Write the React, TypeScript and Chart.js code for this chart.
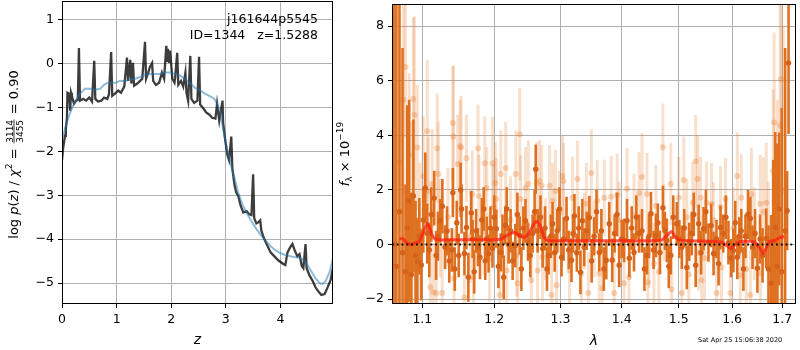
import React, { useEffect, useRef } from "react";
import { Chart, registerables } from "chart.js";

Chart.register(...registerables);

const FONT_FAMILY = "'DejaVu Sans', sans-serif";

// ---------------- Left panel data ----------------
const zTicks = [0, 1, 2, 3, 4];
const logpTicks = [-5, -4, -3, -2, -1, 0, 1];

// [z, log p(z)] dark (chi2-based) curve
const darkCurve: [number, number][] = [
  [0, -2.2], [0.02, -1.93], [0.055, -1.64], [0.07, -1.48], [0.09, -1.25], [0.1, -0.66], [0.13, -0.68],
  [0.15, -1.07], [0.165, -0.66], [0.18, -0.73], [0.22, -0.91], [0.26, -0.84], [0.29, -0.82], [0.31, 0.36],
  [0.33, -0.84], [0.39, -0.8], [0.44, -0.84], [0.5, -0.77], [0.55, -0.86], [0.59, 0.07], [0.61, -0.8],
  [0.66, -0.86], [0.72, -0.84], [0.77, -0.77], [0.83, -0.8], [0.86, -0.7], [0.9, 0.27], [0.92, -0.73],
  [0.97, -0.68], [1.03, -0.61], [1.08, -0.66], [1.14, -0.52], [1.19, 0.14], [1.21, -0.39], [1.25, 0.09],
  [1.27, -0.45], [1.3, 0.02], [1.32, -0.5], [1.38, -0.45], [1.43, -0.39], [1.47, -0.34], [1.52, 0.5],
  [1.54, -0.34], [1.58, -0.2], [1.61, -0.07], [1.65, 0.02], [1.67, -0.39], [1.72, -0.48], [1.78, -0.43],
  [1.83, -0.2], [1.87, -0.34], [1.91, 0.41], [1.93, 0.07], [1.94, 0.34], [1.96, 0.02], [1.98, 0.3],
  [2.02, -0.34], [2.06, -0.43], [2.07, -0.34], [2.11, 0.25], [2.13, -0.48], [2.18, -0.39], [2.22, -0.52],
  [2.26, -0.2], [2.28, -0.66], [2.31, -0.84], [2.35, 0.18], [2.37, -0.8], [2.42, -0.89], [2.48, -0.84],
  [2.51, 0.16], [2.53, -0.93], [2.59, -1.02], [2.64, -1.11], [2.7, -1.16], [2.75, -1.23], [2.81, -1.25],
  [2.84, -0.91], [2.88, -1.3], [2.94, -0.84], [2.95, -1.34], [2.99, -1.75], [3.03, -2.09], [3.06, -2.2],
  [3.1, -1.66], [3.12, -2.39], [3.16, -2.77], [3.19, -2.93], [3.23, -3.02], [3.27, -3.23], [3.32, -3.39],
  [3.38, -3.36], [3.43, -3.43], [3.47, -3.45], [3.5, -2.52], [3.52, -3.52], [3.56, -3.64], [3.6, -3.61],
  [3.63, -3.57], [3.65, -3.8], [3.69, -3.95], [3.74, -4.09], [3.82, -4.3], [3.89, -4.39], [3.96, -4.48],
  [4.06, -4.57], [4.09, -4.59], [4.13, -4.3], [4.18, -4.18], [4.22, -4.11], [4.26, -4.25], [4.31, -4.39],
  [4.35, -4.34], [4.39, -4.61], [4.42, -4.66], [4.46, -4.11], [4.48, -4.66], [4.53, -4.82], [4.59, -4.95],
  [4.64, -5.09], [4.7, -5.2], [4.75, -5.27], [4.81, -5.25], [4.86, -5.11], [4.92, -4.93], [4.97, -4.59],
];

// [z, log p(z)] smooth blue curve
const blueCurve: [number, number][] = [
  [0, -1.75], [0.055, -1.48], [0.11, -1.25], [0.18, -1.02], [0.26, -0.82], [0.33, -0.68], [0.42, -0.57],
  [0.51, -0.57], [0.61, -0.59], [0.7, -0.57], [0.77, -0.48], [0.84, -0.43], [0.92, -0.43], [0.99, -0.43],
  [1.06, -0.39], [1.16, -0.39], [1.25, -0.36], [1.34, -0.34], [1.43, -0.3], [1.52, -0.25], [1.61, -0.23],
  [1.71, -0.23], [1.8, -0.23], [1.89, -0.2], [1.98, -0.2], [2.07, -0.23], [2.17, -0.27], [2.26, -0.36],
  [2.35, -0.45], [2.44, -0.55], [2.53, -0.61], [2.62, -0.68], [2.72, -0.75], [2.79, -0.8], [2.84, -0.91],
  [2.9, -1.11], [2.95, -1.48], [3.01, -1.86], [3.08, -2.25], [3.16, -2.61], [3.23, -2.95], [3.3, -3.2],
  [3.38, -3.39], [3.45, -3.55], [3.54, -3.73], [3.63, -3.89], [3.72, -4.02], [3.82, -4.16], [3.91, -4.25],
  [4.0, -4.32], [4.09, -4.36], [4.18, -4.39], [4.28, -4.41], [4.37, -4.43], [4.46, -4.52], [4.55, -4.7],
  [4.64, -4.89], [4.72, -5.0], [4.77, -5.02], [4.83, -4.95], [4.9, -4.75], [4.97, -4.39],
];

// ---------------- Right panel data ----------------
const lamTicks = [1.1, 1.2, 1.3, 1.4, 1.5, 1.6, 1.7];
const fluxTicks = [-2, 0, 2, 4, 6, 8];

// [lambda, flux, err] strong (dark) points
const darkPts: [number, number, number][] = [
  [1.0625, 0.0, 12], [1.066, -0.8, 10], [1.07, 1.2, 9], [1.074, -0.3, 7.5], [1.0778, -1.0, 3.2],
  [1.08, 0.6, 4.5], [1.0826, 1.6, 3.7], [1.0855, -1.1, 3.0], [1.0882, 1.78, 2.8], [1.091, -0.4, 2.0],
  [1.0934, -0.62, 1.6], [1.096, 0.3, 1.4], [1.0987, -0.75, 1.3], [1.1013, 0.9, 1.2], [1.104, 2.07, 1.3],
  [1.1066, 0.4, 1.1], [1.1093, -0.2, 1.0], [1.112, 1.1, 1.0], [1.1159, 1.7, 1.0], [1.1185, -0.4, 0.9],
  [1.121, 0.3, 0.9], [1.1241, 0.87, 0.8], [1.127, 1.4, 1.0], [1.1307, -0.1, 0.8], [1.1334, 0.5, 0.9],
  [1.1365, -0.6, 0.8], [1.14, -0.2, 0.8], [1.1414, 1.9, 0.9], [1.144, -0.9, 0.8], [1.1468, 0.8, 0.8],
  [1.1495, -0.4, 0.8], [1.1522, 2.0, 1.0], [1.1535, 1.3, 0.9], [1.1575, -0.33, 0.8], [1.1603, 0.62, 0.8],
  [1.163, -1.2, 0.9], [1.1671, 1.16, 0.8], [1.169, 0.2, 0.7], [1.1712, -1.0, 0.8], [1.174, 0.5, 0.8],
  [1.1765, -0.1, 0.7], [1.1794, -0.47, 0.8], [1.182, 0.9, 0.8], [1.1849, 1.3, 0.8], [1.187, -0.6, 0.7],
  [1.1891, 0.22, 0.8], [1.1918, -0.33, 0.7], [1.1945, 0.6, 0.8], [1.1974, -0.15, 0.7], [1.2, 1.0, 0.8],
  [1.203, 0.58, 0.7], [1.206, -0.8, 0.8], [1.2095, -0.29, 0.7], [1.212, 0.3, 0.8], [1.2138, -1.2, 0.8],
  [1.216, 0.7, 0.7], [1.2182, 1.3, 0.8], [1.221, 0.0, 0.7], [1.224, 0.5, 0.8], [1.227, -0.6, 0.7],
  [1.2309, -0.04, 0.8], [1.234, 1.1, 0.8], [1.2375, 0.33, 0.7], [1.24, -0.9, 0.8], [1.243, 0.6, 0.8],
  [1.2462, 0.87, 0.8], [1.25, 0.1, 0.7], [1.2535, -0.4, 0.8], [1.257, 0.4, 0.7], [1.26, 1.2, 0.8],
  [1.2617, 2.76, 0.9], [1.2647, 0.5, 0.8], [1.269, 1.0, 0.8], [1.2723, -0.15, 0.7], [1.276, 0.6, 0.8],
  [1.279, -0.9, 0.8], [1.2815, -0.4, 0.7], [1.285, 0.3, 0.8], [1.2877, 0.76, 0.8], [1.291, -0.3, 0.7],
  [1.295, 0.5, 0.8], [1.2985, 1.3, 0.8], [1.3017, -0.47, 0.7], [1.305, 0.2, 0.8], [1.3096, 0.95, 0.8],
  [1.313, -0.2, 0.7], [1.3175, -0.58, 0.8], [1.32, 0.4, 0.7], [1.3222, 1.05, 0.8], [1.326, -0.3, 0.7],
  [1.329, 0.6, 0.8], [1.3318, -1.02, 0.8], [1.3349, 0.87, 0.8], [1.338, -0.1, 0.7], [1.342, 0.5, 0.7],
  [1.3463, 0.98, 0.8], [1.35, -0.6, 0.8], [1.354, 0.3, 0.7], [1.358, 1.2, 0.8], [1.3625, -0.29, 0.7],
  [1.366, 0.5, 0.8], [1.37, -0.9, 0.8], [1.3741, -0.58, 0.7], [1.379, 0.76, 0.8], [1.384, -0.58, 0.8],
  [1.388, 0.4, 0.7], [1.392, 1.1, 0.8], [1.3957, -0.76, 0.8], [1.4, 0.2, 0.7], [1.404, 0.15, 0.8],
  [1.409, 0.87, 0.8], [1.413, -0.5, 0.7], [1.417, 0.6, 0.8], [1.421, -0.29, 0.7], [1.425, 1.0, 0.8],
  [1.4296, 0.4, 0.7], [1.4348, 0.5, 0.8], [1.439, -0.9, 0.8], [1.4434, -0.4, 0.7], [1.447, 0.3, 0.8],
  [1.4504, 1.13, 0.8], [1.455, -0.2, 0.7], [1.4591, 0.33, 0.8], [1.4625, 0.8, 0.7], [1.4662, -0.29, 0.8],
  [1.4715, 1.35, 0.8], [1.475, 0.5, 0.7], [1.4786, 0.15, 0.8], [1.482, -0.8, 0.8], [1.4857, -0.4, 0.7],
  [1.49, 1.0, 0.8], [1.4964, 0.76, 0.8], [1.501, 0.2, 0.7], [1.5056, -0.1, 0.8], [1.51, 0.6, 0.7],
  [1.5147, -0.84, 0.8], [1.519, 0.1, 0.7], [1.5237, 0.4, 0.8], [1.5275, 1.1, 0.8], [1.531, -0.76, 0.8],
  [1.5365, 0.76, 0.7], [1.541, -0.3, 0.8], [1.5456, 0.58, 0.8], [1.55, 1.2, 0.8], [1.5548, 0.07, 0.7],
  [1.56, 0.7, 0.8], [1.5645, -0.33, 0.8], [1.57, 0.2, 0.7], [1.574, -0.7, 0.8], [1.5777, 0.62, 0.8],
  [1.583, 0.4, 0.7], [1.588, 1.0, 0.8], [1.5929, 0.07, 0.8], [1.598, -0.5, 0.7], [1.6024, -0.22, 0.8],
  [1.606, 0.8, 0.8], [1.61, -0.47, 0.8], [1.614, 0.3, 0.7], [1.6178, 0.5, 0.8], [1.622, -0.9, 0.8],
  [1.626, 0.3, 0.8], [1.631, 1.1, 0.9], [1.6357, 0.95, 0.8], [1.64, -0.1, 0.8], [1.645, 0.4, 0.9],
  [1.6497, -0.87, 0.9], [1.655, 0.2, 0.9], [1.66, -0.4, 1.0], [1.6674, 0.22, 1.1], [1.672, -0.9, 1.6],
  [1.6773, -1.42, 2.5], [1.6815, 0.1, 3.0], [1.6856, 0.62, 3.5], [1.69, -0.8, 4.5], [1.6937, 1.3, 2.8],
  [1.699, -1.0, 6.0], [1.7059, 0.5, 6.7], [1.71, 1.24, 1.45], [1.713, 6.65, 2.6],
];

// [lambda, flux, err] faint (light) points
const lightPts: [number, number, number][] = [
  [1.065, 0.07, 4.0], [1.07, 3.0, 5.5], [1.0751, 5.3, 3.5], [1.0778, 6.5, 2.6], [1.0826, 3.27, 3.0],
  [1.086, 1.0, 3.5], [1.0882, 5.33, 3.0], [1.0895, 4.75, 3.6], [1.0934, 3.55, 2.3], [1.097, 0.5, 2.5],
  [1.1013, 2.5, 2.2], [1.1066, 4.15, 2.6], [1.108, 1.96, 2.0], [1.1106, -1.56, 2.0], [1.1133, 2.22, 2.0],
  [1.1146, -1.75, 1.8], [1.1186, -1.78, 1.8], [1.1199, 3.53, 2.0], [1.1215, 2.58, 1.9], [1.1241, 0.6, 1.8],
  [1.1268, -1.78, 1.8], [1.1347, 1.0, 1.8], [1.1414, 4.45, 2.1], [1.142, 3.95, 2.6], [1.143, -1.24, 1.8],
  [1.1481, 2.95, 1.8], [1.1515, 3.6, 1.7], [1.1528, 3.55, 1.9], [1.1575, -1.93, 1.8], [1.1603, 3.16, 1.6],
  [1.1657, 0.3, 1.7], [1.1685, 1.85, 1.6], [1.17, -1.2, 1.7], [1.1767, 3.53, 1.6], [1.178, 1.78, 1.5],
  [1.1849, 0.47, 1.6], [1.1863, 2.98, 1.7], [1.1891, 2.07, 1.5], [1.1932, -0.5, 1.6], [1.1974, 2.98, 1.7],
  [1.199, 1.35, 1.6], [1.2016, 2.25, 1.5], [1.203, 1.67, 1.5], [1.2081, -1.85, 1.6], [1.2095, 2.58, 1.6],
  [1.2167, 2.8, 1.7], [1.2182, -0.95, 1.6], [1.2238, 0.9, 1.6], [1.2317, 2.58, 1.6], [1.233, -0.4, 1.5],
  [1.2346, -1.42, 1.6], [1.2375, 4.04, 1.7], [1.2389, 1.67, 1.6], [1.2462, 2.07, 1.5], [1.2506, 2.22, 1.6],
  [1.255, -1.31, 1.6], [1.2632, 2.25, 1.5], [1.2645, -0.95, 1.6], [1.2676, 2.33, 1.5], [1.2708, 2.15, 1.5],
  [1.272, -0.47, 1.6], [1.2769, 0.2, 1.5], [1.283, 2.15, 1.5], [1.2862, -1.85, 1.6], [1.2877, 1.6, 1.4],
  [1.2923, 1.96, 1.5], [1.2939, -1.49, 1.5], [1.2985, 1.2, 1.5], [1.3033, 2.51, 1.5], [1.3049, 2.33, 1.4],
  [1.3143, -0.95, 1.5], [1.3191, 1.71, 1.5], [1.327, 2.4, 1.4], [1.3334, -1.06, 1.5], [1.3381, 0.5, 1.4],
  [1.3414, 1.49, 1.5], [1.3446, -1.78, 1.5], [1.3495, 2.62, 1.6], [1.3543, 0.2, 1.4], [1.3592, 1.6, 1.5],
  [1.3625, -1.06, 1.5], [1.3675, -1.6, 1.5], [1.3708, 1.71, 1.4], [1.3823, 1.75, 1.5], [1.3873, -1.78, 1.5],
  [1.3923, 1.82, 1.5], [1.3957, 0.9, 1.4], [1.404, -1.42, 1.5], [1.409, 2.04, 1.5], [1.4124, -1.2, 1.4],
  [1.421, 1.1, 1.5], [1.4296, 1.89, 1.5], [1.4348, 2.47, 1.6], [1.4434, 1.85, 1.5], [1.445, -1.38, 1.5],
  [1.4469, -0.2, 1.4], [1.4556, -0.7, 1.5], [1.4591, 1.42, 1.5], [1.4644, -1.0, 1.5], [1.4715, 3.56, 1.6],
  [1.4733, 0.8, 1.4], [1.4857, 2.22, 1.5], [1.487, -1.64, 1.5], [1.5, 1.71, 1.5], [1.5056, -1.78, 1.5],
  [1.5092, 2.36, 1.6], [1.5147, 1.0, 1.4], [1.5183, -1.1, 1.5], [1.5255, 1.53, 1.5], [1.531, 3.05, 1.7],
  [1.5347, 2.4, 1.6], [1.5365, -0.3, 1.4], [1.5402, 1.71, 1.5], [1.542, -1.31, 1.5], [1.5475, -0.5, 1.5],
  [1.5511, 1.53, 1.5], [1.5606, 1.49, 1.5], [1.5645, 0.9, 1.4], [1.5702, -1.78, 1.5], [1.5777, 1.38, 1.5],
  [1.5796, -0.84, 1.5], [1.5872, 1.67, 1.5], [1.5967, -1.78, 1.6], [1.6024, 0.6, 1.5], [1.61, 2.51, 1.6],
  [1.6159, -1.13, 1.6], [1.6178, 1.71, 1.6], [1.6275, -0.9, 1.6], [1.6357, -1.85, 1.7], [1.6377, 1.85, 1.7],
  [1.6435, 0.4, 1.7], [1.6554, 1.49, 1.8], [1.656, -1.06, 1.8], [1.6614, 1.2, 2.0], [1.6674, 1.53, 2.2],
  [1.6714, -0.3, 2.6], [1.6815, 2.69, 3.0], [1.6835, 4.47, 3.3], [1.69, 0.8, 4.5], [1.6958, 4.36, 4.5],
  [1.6978, 6.05, 3.5], [1.702, 2.0, 6.0],
];

// [lambda, flux] model (red) line
const modelLine: [number, number][] = [
  [1.07, 0.2], [1.074, 0.22], [1.078, 0.1], [1.082, 0.02], [1.086, 0.0], [1.09, 0.05], [1.094, 0.08],
  [1.098, 0.2], [1.102, 0.5], [1.1066, 0.76], [1.11, 0.6], [1.113, 0.35], [1.117, 0.2], [1.122, 0.17],
  [1.14, 0.17], [1.16, 0.17], [1.18, 0.17], [1.2, 0.17], [1.21, 0.2], [1.22, 0.35], [1.23, 0.44],
  [1.238, 0.32], [1.245, 0.26], [1.252, 0.45], [1.26, 0.8], [1.265, 0.84], [1.27, 0.6], [1.275, 0.25],
  [1.28, 0.15], [1.3, 0.14], [1.35, 0.14], [1.4, 0.14], [1.45, 0.14], [1.47, 0.17], [1.48, 0.35],
  [1.487, 0.48], [1.493, 0.3], [1.5, 0.17], [1.53, 0.13], [1.56, 0.12], [1.58, 0.08], [1.59, -0.05],
  [1.597, -0.15], [1.605, -0.02], [1.615, 0.1], [1.635, 0.12], [1.645, 0.08], [1.655, -0.15],
  [1.661, -0.33], [1.668, -0.1], [1.675, 0.12], [1.685, 0.15], [1.695, 0.25], [1.704, 0.29],
];

const objName = "j161644p5545";
const idLine = "ID=1344   z=1.5288";
const stamp = "Sat Apr 25 15:06:38 2020";

// axis limits
const zMin = 0, zMax = 4.963;
const logpMin = -5.477, logpMax = 1.432;
const lamMin = 1.0604, lamMax = 1.7285;
const fluxMin = -2.18, fluxMax = 8.81;

const minus = (v: number) => (v < 0 ? "\u2212" + Math.abs(v) : String(v));

type Piece = { t?: string; size?: number; italic?: boolean; dy?: number; frac?: [string, string] };

function drawRotatedRun(ctx: CanvasRenderingContext2D, bx: number, cy: number, pieces: Piece[]) {
  ctx.save();
  ctx.translate(bx, cy);
  ctx.rotate(-Math.PI / 2);
  ctx.fillStyle = "#000";
  ctx.textBaseline = "alphabetic";
  ctx.textAlign = "left";
  const setFont = (p: Piece) => {
    ctx.font = `${p.italic ? "italic " : ""}${p.size || 13}px ${FONT_FAMILY}`;
  };
  const widths = pieces.map((p) => {
    setFont(p);
    if (p.frac) {
      return Math.max(ctx.measureText(p.frac[0]).width, ctx.measureText(p.frac[1]).width) + 3;
    }
    return ctx.measureText(p.t || "").width;
  });
  const total = widths.reduce((a, b) => a + b, 0);
  let x = -total / 2;
  pieces.forEach((p, i) => {
    const w = widths[i];
    setFont(p);
    if (p.frac) {
      const [n, d] = p.frac;
      const wn = ctx.measureText(n).width;
      const wd = ctx.measureText(d).width;
      ctx.fillText(n, x + (w - wn) / 2, -5);
      ctx.fillText(d, x + (w - wd) / 2, 5);
      ctx.fillRect(x + 1, -3.9, w - 2, 0.8);
    } else {
      ctx.fillText(p.t || "", x, p.dy || 0);
    }
    x += w;
  });
  ctx.restore();
}

const boxPlugin = {
  id: "boxPlugin",
  afterDraw(chart: any) {
    const { ctx, chartArea: a } = chart;
    ctx.save();
    ctx.strokeStyle = "#000";
    ctx.lineWidth = 1;
    ctx.strokeRect(a.left + 0.5, a.top + 0.5, a.right - a.left - 1, a.bottom - a.top - 1);
    ctx.restore();
  },
};

const errorBarPlugin = {
  id: "errorBarPlugin",
  beforeDatasetDraw(chart: any, args: any) {
    const ds: any = chart.data.datasets[args.index];
    if (!ds.errs) return;
    const { ctx, chartArea: a, scales } = chart;
    const xs = scales.x;
    const ys = scales.y;
    ctx.save();
    ctx.beginPath();
    ctx.rect(a.left, a.top, a.right - a.left, a.bottom - a.top);
    ctx.clip();
    ctx.strokeStyle = ds.errColor;
    ctx.lineWidth = ds.errWidth;
    ctx.lineCap = "butt";
    ds.data.forEach((p: any, i: number) => {
      const px = xs.getPixelForValue(p.x);
      const e = ds.errs[i];
      ctx.beginPath();
      ctx.moveTo(px, ys.getPixelForValue(p.y - e));
      ctx.lineTo(px, ys.getPixelForValue(p.y + e));
      ctx.stroke();
    });
    ctx.restore();
  },
};

const tickFont = { family: FONT_FAMILY, size: 12.5 };
const gridOpts = { color: "#b0b0b0", lineWidth: 1, drawTicks: true, tickLength: 4, tickColor: "#000", tickWidth: 1 };

function leftConfig(): any {
  return {
    type: "line",
    data: {
      datasets: [
        {
          data: blueCurve.map(([x, y]) => ({ x, y })),
          borderColor: "rgba(31,119,180,0.5)",
          borderWidth: 2,
          pointRadius: 0,
          tension: 0,
        },
        {
          data: darkCurve.map(([x, y]) => ({ x, y })),
          borderColor: "rgba(0,0,0,0.76)",
          borderWidth: 2.3,
          pointRadius: 0,
          tension: 0,
        },
      ],
    },
    options: {
      animation: false,
      responsive: false,
      maintainAspectRatio: false,
      devicePixelRatio: 1,
      layout: { padding: { left: 0, top: 1, right: 12, bottom: 0 } },
      plugins: { legend: { display: false }, tooltip: { enabled: false } },
      events: [],
      scales: {
        x: {
          type: "linear",
          bounds: "data",
          min: zMin,
          max: zMax,
          afterBuildTicks: (s: any) => {
            s.ticks = zTicks.map((v) => ({ value: v }));
          },
          afterFit: (s: any) => {
            s.height = 46;
            s.paddingLeft = 0;
            s.paddingRight = 0;
          },
          ticks: { font: tickFont, color: "#000", padding: 4, maxRotation: 0, autoSkip: false, callback: (v: any) => minus(Number(v)) },
          grid: gridOpts,
          border: { display: false },
        },
        y: {
          type: "linear",
          bounds: "data",
          min: logpMin,
          max: logpMax,
          afterBuildTicks: (s: any) => {
            s.ticks = logpTicks.map((v) => ({ value: v }));
          },
          afterFit: (s: any) => {
            s.width = 62;
            s.paddingTop = 0;
            s.paddingBottom = 0;
          },
          ticks: { font: tickFont, color: "#000", padding: 4, autoSkip: false, callback: (v: any) => minus(Number(v)) },
          grid: gridOpts,
          border: { display: false },
        },
      },
    },
    plugins: [
      boxPlugin,
      {
        id: "leftText",
        afterDraw(chart: any) {
          const { ctx, chartArea: a } = chart;
          ctx.save();
          ctx.fillStyle = "#000";
          ctx.font = `12.5px ${FONT_FAMILY}`;
          ctx.textAlign = "right";
          ctx.textBaseline = "alphabetic";
          ctx.fillText(objName, 318, 23);
          ctx.fillText(idLine, 318, 38.5);
          ctx.textAlign = "center";
          ctx.font = `italic 14px ${FONT_FAMILY}`;
          ctx.fillText("z", (a.left + a.right) / 2, 344);
          ctx.restore();
          drawRotatedRun(ctx, 17.5, 154.5, [
            { t: "log " },
            { t: "p", italic: true },
            { t: "(" },
            { t: "z", italic: true },
            { t: ") / " },
            { t: "\u03c7", italic: true },
            { t: "2", size: 9, dy: -5.5 },
            { t: " = " },
            { frac: ["3114", "3455"], size: 9 },
            { t: " = 0.90" },
          ]);
        },
      },
    ],
  };
}

function rightConfig(): any {
  return {
    type: "line",
    data: {
      datasets: [
        {
          data: [
            { x: lamMin, y: 0 },
            { x: lamMax, y: 0 },
          ],
          borderColor: "#000",
          borderWidth: 1.8,
          borderDash: [1.8, 3],
          pointRadius: 0,
        },
        {
          data: modelLine.map(([x, y]) => ({ x, y })),
          borderColor: "rgba(255,25,15,0.72)",
          borderWidth: 3,
          pointRadius: 0,
          tension: 0.2,
        },
        {
          data: darkPts.map(([x, y]) => ({ x, y })),
          errs: darkPts.map((p) => p[2]),
          errColor: "#de7020",
          errWidth: 2.6,
          showLine: false,
          pointRadius: 2.7,
          pointBorderWidth: 0,
          pointBackgroundColor: "#d6621a",
        },
        {
          data: lightPts.map(([x, y]) => ({ x, y })),
          errs: lightPts.map((p) => p[2]),
          errColor: "rgba(232,125,45,0.24)",
          errWidth: 3,
          showLine: false,
          pointRadius: 3,
          pointBorderWidth: 0,
          pointBackgroundColor: "rgba(232,125,45,0.32)",
        },
      ],
    },
    options: {
      animation: false,
      responsive: false,
      maintainAspectRatio: false,
      devicePixelRatio: 1,
      layout: { padding: { left: 0, top: 1, right: 1, bottom: 0 } },
      plugins: { legend: { display: false }, tooltip: { enabled: false } },
      events: [],
      scales: {
        x: {
          type: "logarithmic",
          bounds: "data",
          min: lamMin,
          max: lamMax,
          afterBuildTicks: (s: any) => {
            s.ticks = lamTicks.map((v) => ({ value: v }));
          },
          afterFit: (s: any) => {
            s.height = 46;
            s.paddingLeft = 0;
            s.paddingRight = 0;
          },
          ticks: { font: tickFont, color: "#000", padding: 4, maxRotation: 0, autoSkip: false, callback: (v: any) => Number(v).toFixed(1) },
          grid: gridOpts,
          border: { display: false },
        },
        y: {
          type: "linear",
          bounds: "data",
          min: fluxMin,
          max: fluxMax,
          afterBuildTicks: (s: any) => {
            s.ticks = fluxTicks.map((v) => ({ value: v }));
          },
          afterFit: (s: any) => {
            s.width = 57;
            s.paddingTop = 0;
            s.paddingBottom = 0;
          },
          ticks: { font: tickFont, color: "#000", padding: 4, autoSkip: false, callback: (v: any) => minus(Number(v)) },
          grid: gridOpts,
          border: { display: false },
        },
      },
    },
    plugins: [
      errorBarPlugin,
      boxPlugin,
      {
        id: "rightText",
        afterDraw(chart: any) {
          const { ctx, chartArea: a } = chart;
          ctx.save();
          ctx.fillStyle = "#000";
          ctx.textAlign = "center";
          ctx.textBaseline = "alphabetic";
          ctx.font = `italic 14px ${FONT_FAMILY}`;
          ctx.fillText("\u03bb", (a.left + a.right) / 2, 345);
          ctx.textAlign = "left";
          ctx.font = `6.5px ${FONT_FAMILY}`;
          ctx.fillText(stamp, 363, 342);
          ctx.restore();
          drawRotatedRun(ctx, 14, 154, [
            { t: "f", italic: true },
            { t: "\u03bb", size: 9, dy: 3 },
            { t: " \u00d7 10" },
            { t: "\u221219", size: 9, dy: -6 },
          ]);
        },
      },
    ],
  };
}

export default function App() {
  const leftRef = useRef<HTMLCanvasElement>(null);
  const rightRef = useRef<HTMLCanvasElement>(null);
  useEffect(() => {
    const c1 = new Chart(leftRef.current as HTMLCanvasElement, leftConfig());
    const c2 = new Chart(rightRef.current as HTMLCanvasElement, rightConfig());
    return () => {
      c1.destroy();
      c2.destroy();
    };
  }, []);
  return (
    <div style={{ position: "absolute", left: 0, top: 0, width: 800, height: 350, background: "#fff" }}>
      <canvas
        ref={leftRef}
        width={345}
        height={350}
        style={{ position: "absolute", left: 0, top: 0, width: 345, height: 350 }}
      />
      <canvas
        ref={rightRef}
        width={465}
        height={350}
        style={{ position: "absolute", left: 335, top: 0, width: 465, height: 350 }}
      />
    </div>
  );
}
